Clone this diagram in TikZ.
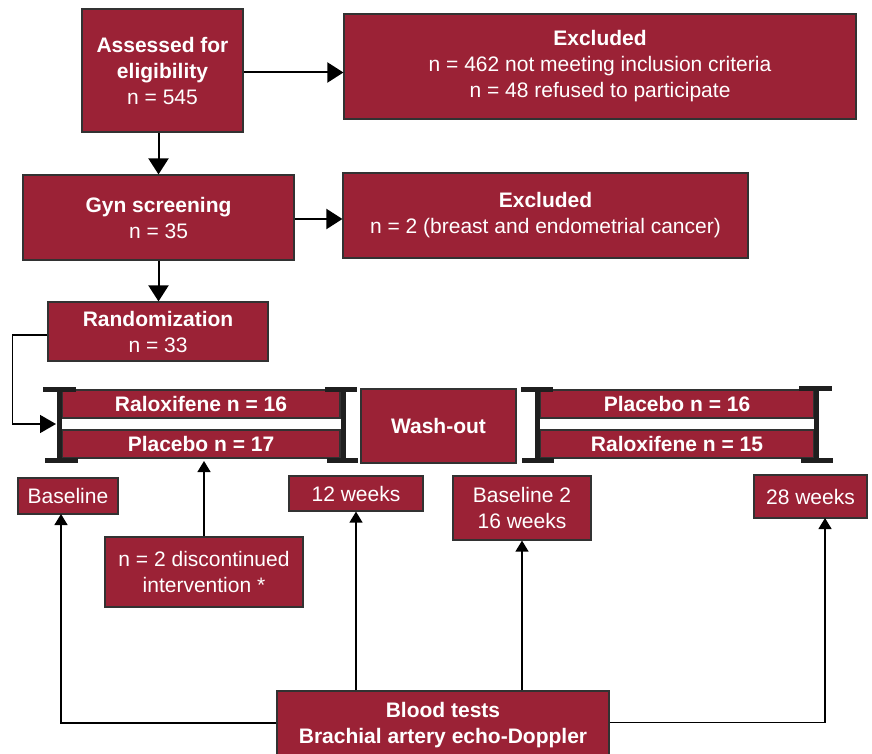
\documentclass[tikz,border=0pt]{standalone}
\usepackage{fontspec}
\setmainfont{Liberation Sans}
\usetikzlibrary{arrows.meta,calc}
\definecolor{maroon}{RGB}{155,34,54}
\definecolor{edgegray}{RGB}{50,50,50}
\begin{document}
\begin{tikzpicture}[x=1pt,y=-1pt,
  box/.style={draw=edgegray,line width=1.2pt,fill=maroon,text=white,align=center,inner sep=0pt,font=\fontsize{21}{26}\selectfont},
  bigarr/.style={line width=2pt,-{Triangle[length=16pt,width=20pt]}},
  midarr/.style={line width=1.6pt,-{Triangle[length=16pt,width=18pt]}},
  smallarr/.style={line width=1.3pt,-{Triangle[length=11pt,width=13pt]}},
  beam/.style={fill=black!88}]
\useasboundingbox (0,0) rectangle (872,754);

% top part
\node[box,minimum width=161pt,minimum height=123pt] (A) at (162.5,70.5) {\textbf{Assessed for}\\\textbf{eligibility}\\n = 545};
\node[box,minimum width=512pt,minimum height=105pt] (Ex1) at (600,66.5) {\textbf{Excluded}\\n = 462 not meeting inclusion criteria\\n = 48 refused to participate};
\node[box,minimum width=271pt,minimum height=85pt] (Gyn) at (158.5,217.5) {\textbf{Gyn screening}\\n = 35};
\node[box,minimum width=405pt,minimum height=85pt] (Ex2) at (545.5,215.5) {\textbf{Excluded}\\n = 2 (breast and endometrial cancer)};
\node[box,minimum width=220pt,minimum height=59pt] (Rand) at (158,331.5) {\textbf{Randomization}\\n = 33};

% treatment rows
\node[box,minimum width=278pt,minimum height=28pt] (Ral1) at (201,404) {\textbf{Raloxifene n = 16}};
\node[box,minimum width=278pt,minimum height=28pt] (Pla1) at (201,444) {\textbf{Placebo n = 17}};
\node[box,minimum width=155pt,minimum height=74pt] (Wash) at (438.5,426) {\textbf{Wash-out}};
\node[box,minimum width=274pt,minimum height=28pt] (Pla2) at (677,404) {\textbf{Placebo n = 16}};
\node[box,minimum width=274pt,minimum height=28pt] (Ral2) at (677,444) {\textbf{Raloxifene n = 15}};

% I-beams
\fill[beam] (57,387) rectangle (62,462);
\fill[beam] (43,387) rectangle (76,391.5);
\fill[beam] (45,458) rectangle (78,462.5);
\fill[beam] (341,387) rectangle (346,462);
\fill[beam] (325,387) rectangle (357,391.5);
\fill[beam] (327,458) rectangle (358,462.5);
\fill[beam] (535,387) rectangle (540,462);
\fill[beam] (521,387) rectangle (553,391.5);
\fill[beam] (522,458) rectangle (554,462.5);
\fill[beam] (814,387) rectangle (819,462);
\fill[beam] (799,386) rectangle (832,390.5);
\fill[beam] (801,458) rectangle (833,462.5);
\coordinate (g1in) at (56,424);

% time points
\node[box,minimum width=100pt,minimum height=36pt] (Base) at (68,496) {Baseline};
\node[box,minimum width=198pt,minimum height=70pt] (N2) at (204,572) {n = 2 discontinued\\intervention *};
\node[box,minimum width=134pt,minimum height=35pt] (W12) at (356,493.5) {12 weeks};
\node[box,minimum width=138pt,minimum height=64pt] (B2) at (522,508) {Baseline 2\\16 weeks};
\node[box,minimum width=113pt,minimum height=43pt] (W28) at (810.5,496.5) {28 weeks};
\node[box,minimum width=332pt,minimum height=69pt] (Blood) at (443,725.5) {\textbf{Blood tests}\\\textbf{Brachial artery echo-Doppler}};
\coordinate (basein) at (61,514);
\coordinate (w28in) at (825,518);
\coordinate (pla1in) at (204,461);

% connectors
\draw[bigarr] ([yshift=-2pt]A.east) -- ([yshift=-2pt]A.east -| Ex1.west);
\draw[bigarr] (A.south -| Gyn.north) -- (Gyn.north);
\draw[bigarr] ([yshift=-1.5pt]Gyn.east) -- ([yshift=-1.5pt]Gyn.east -| Ex2.west);
\draw[bigarr] (Gyn.south) -- (Gyn.south |- Rand.north);
\draw[midarr] ([yshift=-3.5pt]Rand.west) -- ++(-35,0) |- (g1in);
\draw[smallarr] (N2.north) -- (pla1in);
\draw[smallarr] ([yshift=2.5pt]Blood.west) -| (basein);
\draw[smallarr] ([yshift=3pt]Blood.east) -| (w28in);
\draw[smallarr] (Blood.north -| W12.south) -- (W12.south);
\draw[smallarr] (Blood.north -| B2.south) -- (B2.south);
\end{tikzpicture}
\end{document}
